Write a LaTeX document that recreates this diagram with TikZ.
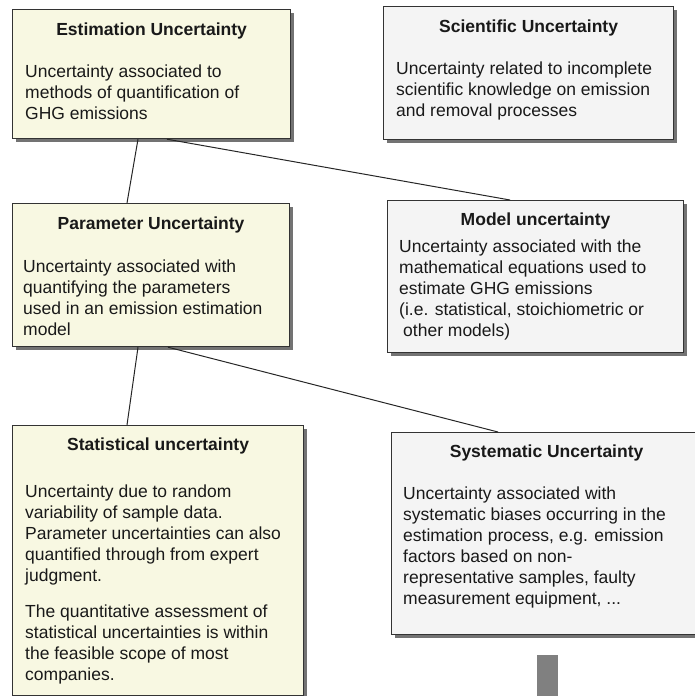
\documentclass[tikz,border=0pt]{standalone}
\usepackage{fontspec}
\setmainfont{Liberation Sans}
\usetikzlibrary{positioning}
\usetikzlibrary{shadows}
\definecolor{boxyellow}{RGB}{248,248,226}
\definecolor{boxgrey}{RGB}{244,244,244}
\newcommand{\ufont}{\fontsize{17.5}{21}\selectfont}
\tikzset{
	ubox/.style={draw=black!80, line width=1.2pt, anchor=north west, inner sep=0pt,
		drop shadow={shadow xshift=3pt, shadow yshift=-3pt, fill=black!55, opacity=1}},
	utitle/.style={font=\ufont\bfseries, text=black!90, inner sep=0pt, anchor=north},
	utext/.style={font=\ufont, text=black!90, align=left, inner sep=0pt},
	conn/.style={draw=black!85, line width=1pt}
}
\begin{document}
\begin{tikzpicture}[x=1pt,y=1pt]
		\useasboundingbox (0,0) rectangle (694,-696);
		
		% draw boxes
		\node[ubox, fill=boxyellow, minimum width=278pt, minimum height=129pt] (est) at (12,-9) {};
		\node[ubox, fill=boxgrey, minimum width=290pt, minimum height=133pt] (sci) at (383,-6) {};
		\node[ubox, fill=boxyellow, minimum width=277pt, minimum height=143pt] (par) at (12,-203) {};
		\node[ubox, fill=boxgrey, minimum width=296pt, minimum height=152pt] (mod) at (387,-200) {};
		\node[ubox, fill=boxyellow, minimum width=291pt, minimum height=270pt] (sta) at (12,-425) {};
		\node[ubox, fill=boxgrey, minimum width=310pt, minimum height=202pt] (sys) at (391,-432) {};
		
		% draw titles
		\node[utitle, below=14pt of est.north] (esttitle) {Estimation Uncertainty};
		\node[utitle, below=14pt of sci.north] (scititle) {Scientific Uncertainty};
		\node[utitle, below=14pt of par.north] (partitle) {Parameter Uncertainty};
		\node[utitle, below=13pt of mod.north] (modtitle) {Model uncertainty};
		\node[utitle, below=13pt of sta.north] (statitle) {Statistical uncertainty};
		\node[utitle, below=13pt of sys.north] (systitle) {Systematic Uncertainty};
		
		% draw texts
		\node[utext, below right=56pt and 13pt of est.north west] (esttext)
		{Uncertainty associated to\\ methods of quantification of\\ GHG emissions};
		\node[utext, below right=56pt and 13pt of sci.north west] (scitext)
		{Uncertainty related to incomplete\\ scientific knowledge on emission\\ and removal processes};
		\node[utext, below right=57pt and 11pt of par.north west] (partext)
		{Uncertainty associated with\\ quantifying the parameters\\ used in an emission estimation\\ model};
		\node[utext, below right=40pt and 12pt of mod.north west] (modtext)
		{Uncertainty associated with the\\ mathematical equations used to\\ estimate GHG emissions\\ (i.e. statistical, stoichiometric or\\ \hspace*{4pt}other models)};
		\node[utext, below right=60pt and 13pt of sta.north west] (statext)
		{Uncertainty due to random\\ variability of sample data.\\ Parameter uncertainties can also\\ quantified through from expert\\ judgment.\\[15pt] The quantitative assessment of\\ statistical uncertainties is within\\ the feasible scope of most\\ companies.};
		\node[utext, below right=55pt and 12pt of sys.north west] (systext)
		{Uncertainty associated with\\ systematic biases occurring in the\\ estimation process, e.g. emission\\ factors based on non-\\ representative samples, faulty\\ measurement equipment, ...};
		
		% draw connectors
		\foreach \a/\ax/\b/\bx in {est/126/par/115, est/155/mod/123, par/126/sta/115, par/156/sys/107}
		\draw[conn] ([xshift=\ax pt]\a.south west) -- ([xshift=\bx pt]\b.north west);
		
		% draw grey bar
		\node[fill=black!50, inner sep=0pt, anchor=north west, minimum width=21pt, minimum height=45pt] (bar) at (537,-655) {};
		
		\end{tikzpicture}
\end{document}
